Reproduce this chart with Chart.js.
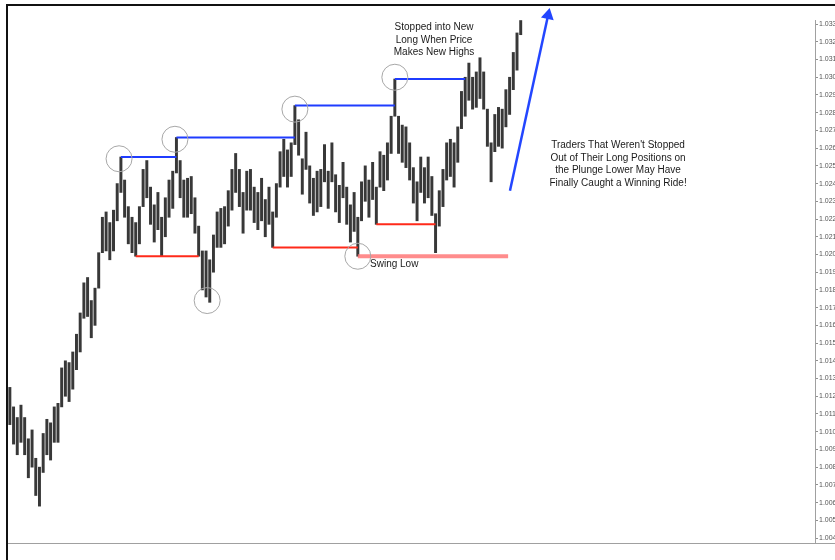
<!DOCTYPE html>
<html><head><meta charset="utf-8">
<script src="https://cdn.jsdelivr.net/npm/chart.js@4/dist/chart.umd.min.js"></script>
<style>html,body{margin:0;padding:0;background:#fff;overflow:hidden}</style>
</head><body>
<canvas id="c" width="835" height="560"></canvas>
<script>
// ---- price bars (high / low), one per bar ----
const highs = [1.0125,1.0114,1.0108,1.0115,1.0108,1.0096,1.0101,1.0085,1.0080,1.0099,
1.0107,1.0105,1.0114,1.0116,1.0136,1.0140,1.0139,1.0145,1.0155,1.0167,
1.0184,1.0187,1.0174,1.0181,1.0201,1.0221,1.0224,1.0218,1.0225,1.0240,
1.0255,1.0242,1.0227,1.0221,1.0218,1.0227,1.0248,1.0253,1.0238,1.0228,
1.0235,1.0221,1.0232,1.0242,1.0247,1.0266,1.0253,1.0242,1.0243,1.0244,
1.0232,1.0216,1.0202,1.0202,1.0197,1.0211,1.0224,1.0226,1.0227,1.0236,
1.0248,1.0257,1.0248,1.0235,1.0247,1.0248,1.0238,1.0235,1.0243,1.0231,
1.0238,1.0224,1.0240,1.0258,1.0265,1.0259,1.0263,1.0284,1.0276,1.0254,
1.0269,1.0250,1.0243,1.0247,1.0248,1.0262,1.0247,1.0263,1.0245,1.0239,
1.0252,1.0238,1.0228,1.0235,1.0221,1.0241,1.0250,1.0242,1.0252,1.0238,
1.0258,1.0256,1.0263,1.0278,1.0299,1.0278,1.0273,1.0272,1.0263,1.0249,
1.0241,1.0255,1.0249,1.0255,1.0244,1.0223,1.0236,1.0248,1.0263,1.0265,
1.0263,1.0272,1.0292,1.0300,1.0308,1.0300,1.0303,1.0311,1.0303,1.0282,
1.0263,1.0279,1.0283,1.0282,1.0293,1.0300,1.0314,1.0325,1.0332];
const lows = [1.0104,1.0093,1.0087,1.0094,1.0087,1.0074,1.0080,1.0064,1.0058,1.0077,
1.0087,1.0084,1.0094,1.0094,1.0114,1.0120,1.0117,1.0124,1.0135,1.0145,
1.0164,1.0165,1.0153,1.0160,1.0181,1.0201,1.0202,1.0197,1.0202,1.0219,
1.0235,1.0221,1.0206,1.0201,1.0199,1.0206,1.0227,1.0232,1.0217,1.0207,
1.0214,1.0199,1.0210,1.0221,1.0226,1.0246,1.0232,1.0221,1.0221,1.0223,
1.0212,1.0199,1.0180,1.0176,1.0173,1.0190,1.0204,1.0204,1.0206,1.0216,
1.0225,1.0235,1.0227,1.0212,1.0225,1.0225,1.0218,1.0214,1.0219,1.0210,
1.0217,1.0204,1.0221,1.0238,1.0244,1.0238,1.0244,1.0262,1.0256,1.0234,
1.0248,1.0229,1.0222,1.0224,1.0227,1.0241,1.0226,1.0241,1.0224,1.0218,
1.0232,1.0217,1.0207,1.0213,1.0199,1.0219,1.0230,1.0221,1.0231,1.0217,
1.0238,1.0236,1.0242,1.0257,1.0278,1.0257,1.0252,1.0249,1.0242,1.0229,
1.0219,1.0235,1.0229,1.0232,1.0222,1.0201,1.0216,1.0227,1.0242,1.0244,
1.0238,1.0252,1.0271,1.0278,1.0287,1.0282,1.0283,1.0288,1.0282,1.0261,
1.0241,1.0258,1.0261,1.0260,1.0272,1.0279,1.0293,1.0304,1.0324];

// ---- price axis ticks ----
const yTickValues = [1.033,1.032,1.031,1.030,1.029,1.028,1.027,1.026,1.025,1.024,
1.023,1.022,1.021,1.020,1.019,1.018,1.017,1.016,1.015,1.014,
1.013,1.012,1.011,1.010,1.009,1.008,1.007,1.006,1.005,1.004];
const yTickLabels = ['1.033','1.032','1.031','1.030','1.029','1.028','1.027','1.026','1.025','1.024',
'1.023','1.022','1.021','1.020','1.019','1.018','1.017','1.016','1.015','1.014',
'1.013','1.012','1.011','1.010','1.009','1.008','1.007','1.006','1.005','1.004'];
const yMin = 1.00372, yMax = 1.03323;
const xSlots = 218;

// ---- swing-high stop levels (blue) ----
const blueFrom  = [30, 45, 77, 104];
const blueTo    = [45, 77, 104, 123];
const blueLevel = [1.0255, 1.0266, 1.0284, 1.0299];
// ---- swing-low levels (red) ----
const redFrom  = [34, 71, 99];
const redTo    = [51, 94, 115];
const redLevel = [1.0199, 1.0204, 1.0217];
// ---- main swing low (pink) ----
const swingFrom = 94, swingTo = 134.6, swingLevel = 1.0199;
// ---- circled pivots ----
const circleX = [29.5, 44.6, 53.3, 77.0, 104.0, 94.0];
const circleY = [1.0254, 1.0265, 1.0174, 1.0282, 1.0300, 1.0199];
// ---- arrow ----
const arrowX = [135.1, 145.4];
const arrowY = [1.0236, 1.0335];
// ---- notes ----
const note1 = ['Stopped into New', 'Long When Price', 'Makes New Highs'];
const note1At = [114.6, 1.03283];
const note2 = ["Traders That Weren't Stopped", 'Out of Their Long Positions on', 'the Plunge Lower May Have', 'Finally Caught a Winning Ride!'];
const note2At = [164.3, 1.02617];
const swingText = 'Swing Low';
const swingTextAt = [97.3, 1.01946];

const lineDs = (x1, x2, v, color, w) => ({
  type: 'line', data: [{x: x1, y: v}, {x: x2, y: v}], borderColor: color, borderWidth: w,
  pointRadius: 0, tension: 0, order: 1
});

const datasets = [];
datasets.push({
  type: 'bar',
  data: highs.map((h, i) => ({x: i, y: [lows[i], h]})),
  backgroundColor: '#383838', barThickness: 2.3, grouped: false, order: 5
});
datasets.push(lineDs(swingFrom, swingTo, swingLevel, 'rgba(255,120,120,0.85)', 4));
blueFrom.forEach((f, k) => datasets.push(lineDs(f, blueTo[k], blueLevel[k], '#1f3cff', 2)));
redFrom.forEach((f, k) => datasets.push(lineDs(f, redTo[k], redLevel[k], '#ff2a1a', 2)));
datasets.push({
  type: 'line', data: circleX.map((x, k) => ({x, y: circleY[k]})), showLine: false,
  pointRadius: 13, pointStyle: 'circle', pointBackgroundColor: 'rgba(0,0,0,0)',
  pointBorderColor: '#a8a8a8', pointBorderWidth: 1, order: 0
});
datasets.push({
  type: 'line', data: arrowX.map((x, k) => ({x, y: arrowY[k]})), borderColor: '#2346ff',
  borderWidth: 2.5, pointRadius: [0, 5], pointStyle: 'triangle', pointRotation: 12,
  pointBackgroundColor: '#2346ff', pointBorderColor: '#2346ff', clip: false, order: 0
});

const framePlugin = {
  id: 'frame',
  beforeDraw(chart) {
    const c = chart.ctx;
    c.save();
    c.fillStyle = '#fff'; c.fillRect(0, 0, chart.width, chart.height);
    c.restore();
  },
  afterDraw(chart) {
    const c = chart.ctx, a = chart.chartArea;
    c.save();
    c.fillStyle = '#111';
    c.fillRect(6, 4, chart.width - 6, 2);
    c.fillRect(6, 4, 2, chart.height - 4);
    c.strokeStyle = '#a0a0a0'; c.lineWidth = 1;
    c.beginPath(); c.moveTo(a.right, Math.round(a.bottom) + 0.5); c.lineTo(chart.width, Math.round(a.bottom) + 0.5); c.stroke();
    c.restore();
  }
};

const notePlugin = {
  id: 'notes',
  afterDatasetsDraw(chart) {
    const c = chart.ctx, xs = chart.scales.x, ys = chart.scales.y;
    c.save();
    c.fillStyle = '#1a1a1a';
    c.font = '10px "Liberation Sans", Arial, sans-serif';
    c.textBaseline = 'middle';
    c.textAlign = 'center';
    const lh = 12.8;
    note1.forEach((t, k) => c.fillText(t, xs.getPixelForValue(note1At[0]), ys.getPixelForValue(note1At[1]) + k * lh));
    note2.forEach((t, k) => c.fillText(t, xs.getPixelForValue(note2At[0]), ys.getPixelForValue(note2At[1]) + k * lh));
    c.textAlign = 'left';
    c.fillText(swingText, xs.getPixelForValue(swingTextAt[0]), ys.getPixelForValue(swingTextAt[1]));
    c.restore();
  }
};

new Chart(document.getElementById('c'), {
  type: 'bar',
  data: {datasets},
  options: {
    responsive: false, animation: false,
    layout: {autoPadding: false, padding: {left: 8, top: 20, bottom: 17, right: 0}},
    plugins: {legend: {display: false}, tooltip: {enabled: false}},
    scales: {
      x: {
        type: 'linear', min: -0.5, max: xSlots - 0.5, offset: false,
        grid: {display: false, drawTicks: false}, ticks: {display: false},
        border: {display: true, color: '#a0a0a0'},
        afterFit: s => { s.paddingLeft = 0; s.paddingRight = 0; s.height = 0; }
      },
      y: {
        position: 'right', min: yMin, max: yMax,
        afterBuildTicks: s => { s.ticks = yTickValues.map(v => ({value: v})); },
        afterFit: s => { s.width = 20; },
        ticks: {font: {size: 7, family: '"Liberation Sans", Arial, sans-serif'}, color: '#555555', padding: 1,
                callback: (v, i) => yTickLabels[i]},
        grid: {drawOnChartArea: false, tickLength: 3, color: '#909090'},
        border: {display: true, color: '#a0a0a0'}
      }
    }
  },
  plugins: [framePlugin, notePlugin]
});
</script>
</body></html>
